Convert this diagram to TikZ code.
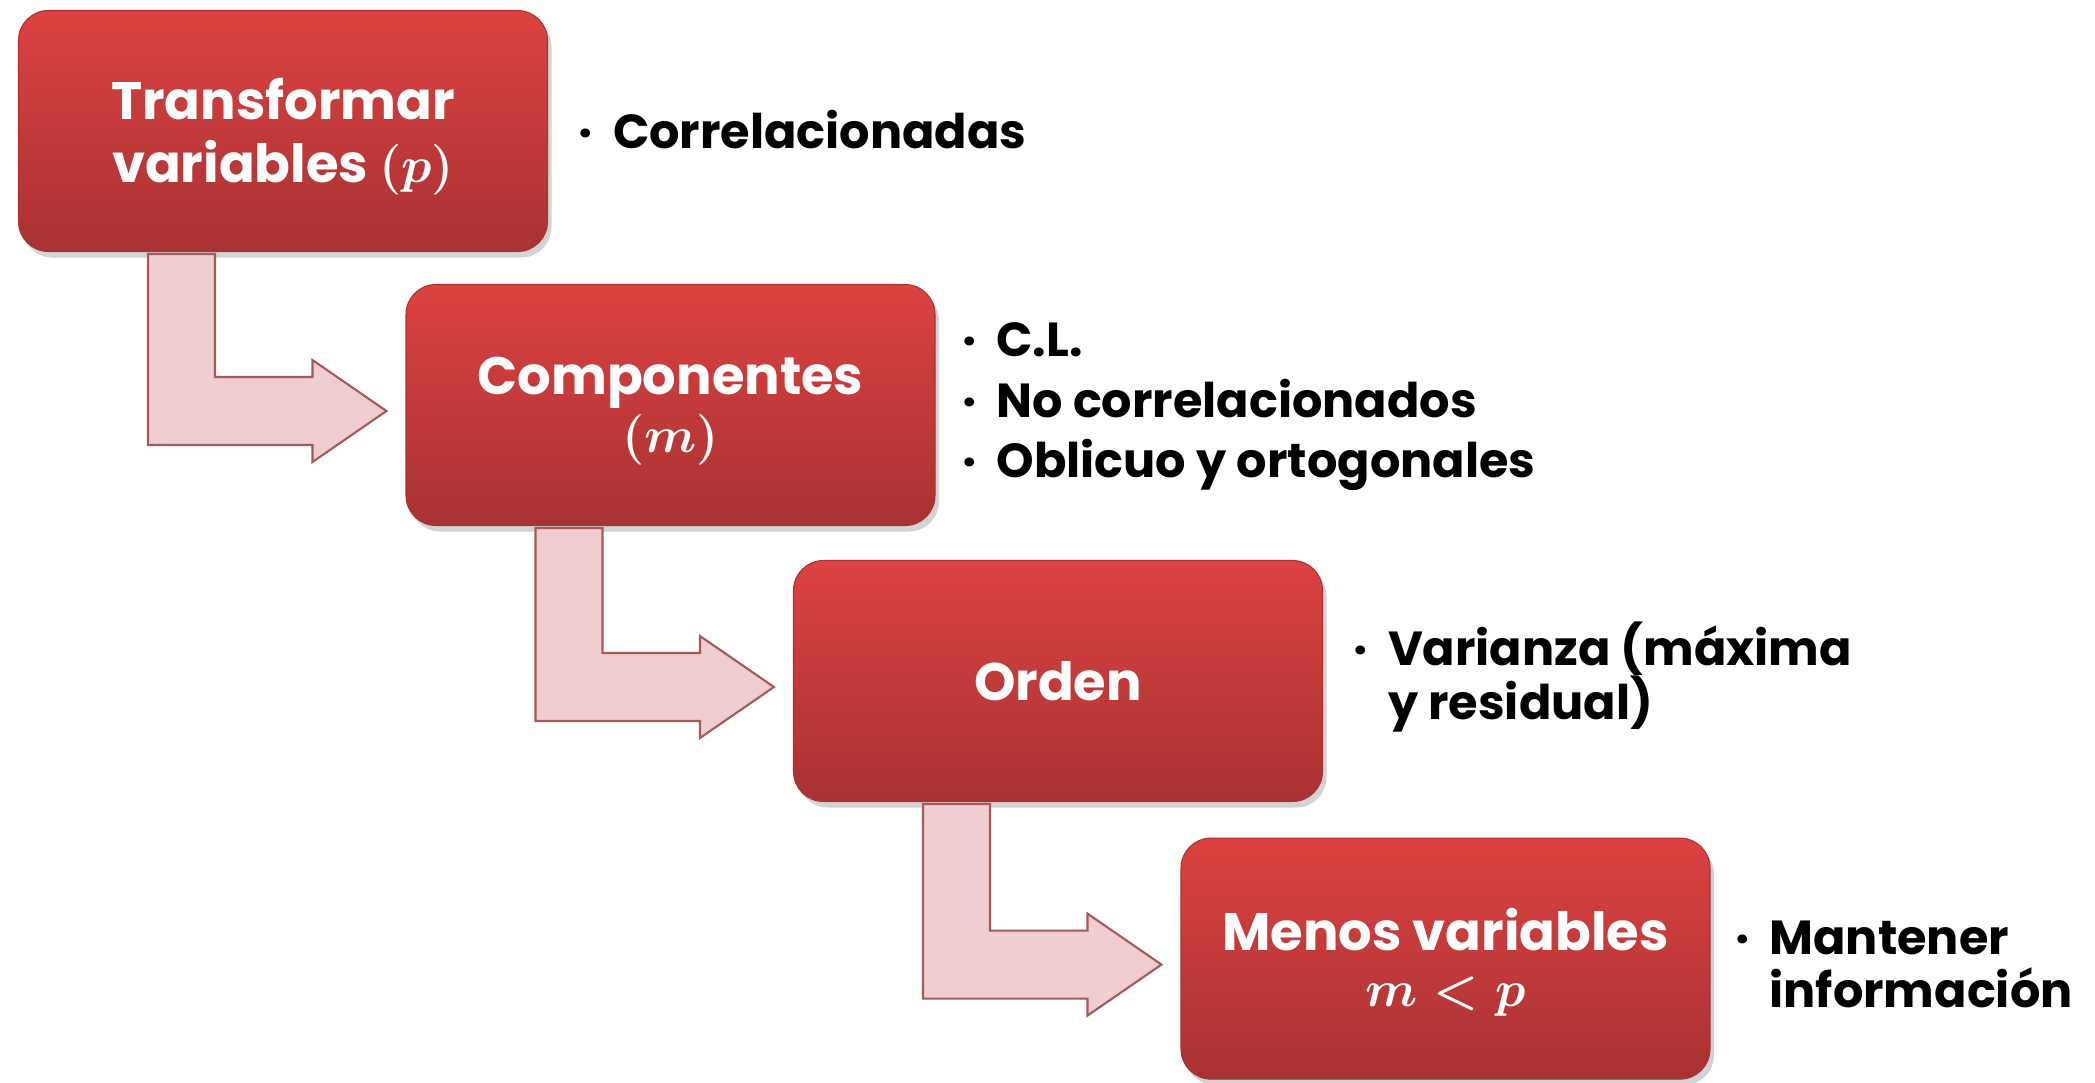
\documentclass[tikz,border=0pt]{standalone}
\usepackage{fontspec}
\setmainfont{Poppins}
\usetikzlibrary{positioning, calc, shadows}

\definecolor{rojoarriba}{RGB}{221,66,66}
\definecolor{rojoabajo}{RGB}{168,50,50}
\definecolor{rosaflecha}{RGB}{239,205,208}

\begin{document}
\begin{tikzpicture}[
    paso/.style={rectangle, rounded corners=0.3cm, minimum width=5.29cm, minimum height=2.41cm,
        top color=rojoarriba, bottom color=rojoabajo, draw=rojoabajo, line width=0.3pt,
        drop shadow={opacity=0.35, shadow xshift=0.04cm, shadow yshift=-0.06cm},
        text=white, align=center, font=\bfseries\boldmath\fontsize{15}{18}\selectfont},
    nota/.style={inner sep=0pt, align=left, font=\bfseries\fontsize{13.6}{17.3}\selectfont},
    flecha/.style={fill=rosaflecha, draw=gray!70!red, line width=0.6pt, line join=miter}
]
    \useasboundingbox (0,0) rectangle (20.95,-10.82);

    % Steps
    \node[paso] (transformar) at (2.83,-1.31) {\rule{0pt}{15pt}Transformar\\variables {\Large$(p)$}};
    \node[paso] (componentes) at (6.705,-4.05) {\rule{0pt}{14pt}Componentes\\[-1.5pt]{\Large$(m)$}};
    \node[paso] (orden) at (10.58,-6.81) {Orden};
    \node[paso] (menos) at (14.455,-9.586) {\rule{0pt}{14pt}Menos variables\\[-2pt]{\Large$m<p$}};

    % Bent arrows between the steps
    \foreach \a/\b in {transformar/componentes, componentes/orden, orden/menos} {
        \filldraw[flecha] let \p1=(\a.south), \p2=(\b.west) in
            (\x1-1.35cm,\y1-0.02cm) -- (\x1-0.68cm,\y1-0.02cm) -- (\x1-0.68cm,\y2+0.28cm)
            -- (\x2-0.93cm,\y2+0.28cm) -- (\x2-0.93cm,\y2+0.45cm) -- (\x2-0.19cm,\y2-0.06cm)
            -- (\x2-0.93cm,\y2-0.57cm) -- (\x2-0.93cm,\y2-0.40cm) -- (\x1-1.35cm,\y2-0.40cm) -- cycle;
    }

    % Notes
    \node[nota, right=0.3cm of transformar, yshift=-0.05cm] (n1) {%
        \begin{tabular}{@{}l@{\hspace{0.2cm}}l@{}}·&Correlacionadas\end{tabular}};
    \node[nota, right=0.26cm of componentes] (n2) {%
        \begin{tabular}{@{}l@{\hspace{0.2cm}}l@{}}·&C.L.\\ ·&No correlacionados\\ ·&Oblicuo y ortogonales\end{tabular}};
    \node[nota, right=0.3cm of orden, yshift=0.01cm] (n3) {%
        \begin{tabular}{@{}l@{\hspace{0.2cm}}l@{}}·&Varianza (máxima\\[-2.3pt] &y residual)\end{tabular}};
    \node[nota, right=0.24cm of menos, yshift=-0.1cm] (n4) {%
        \begin{tabular}{@{}l@{\hspace{0.2cm}}l@{}}·&Mantener\\[-2.3pt] &información\end{tabular}};

\end{tikzpicture}
\end{document}
